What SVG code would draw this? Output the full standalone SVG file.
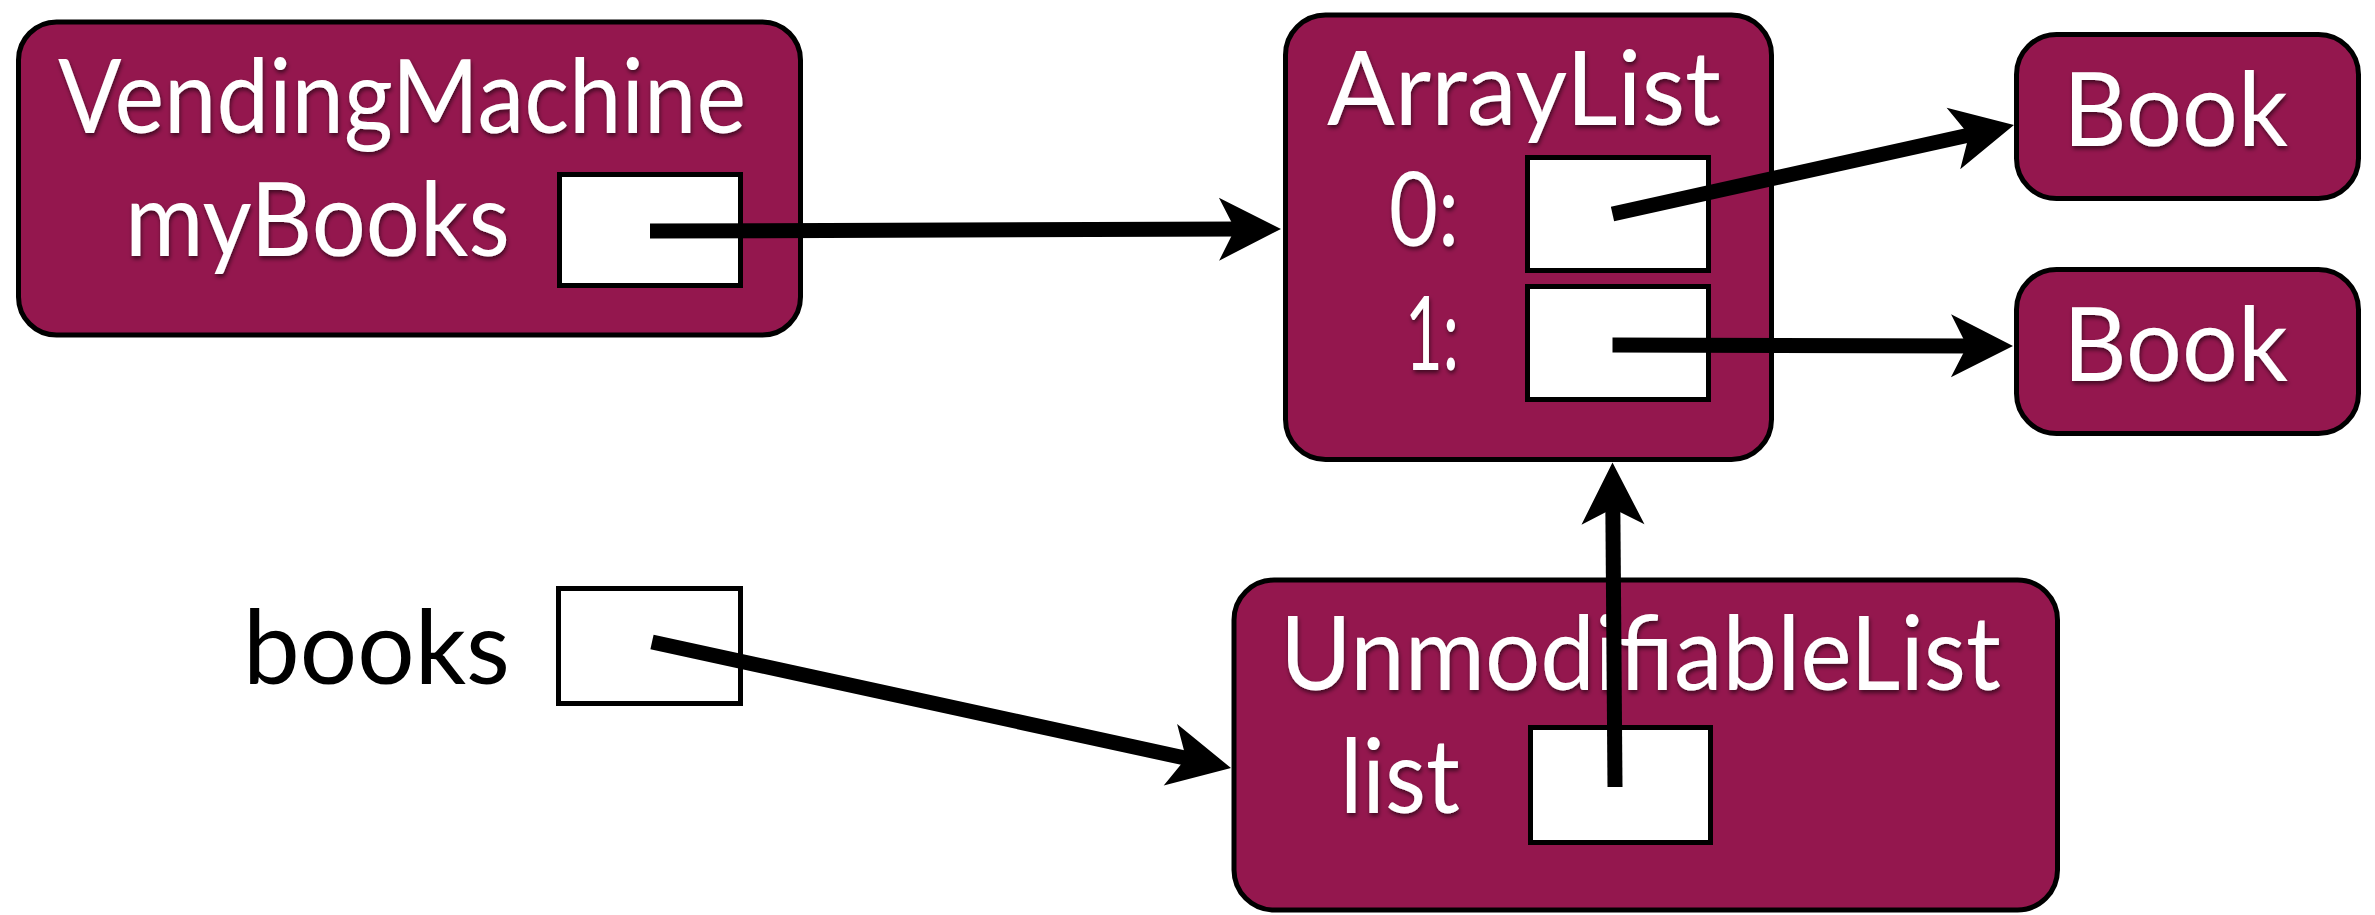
<svg xmlns="http://www.w3.org/2000/svg" width="2375" height="915" viewBox="0 0 2375 915">
  <style>
    .box { fill: #94174e; stroke: #000; stroke-width: 5; }
    .slot { fill: #fff; stroke: #000; stroke-width: 5; }
    .lbl { font-family: Lato, "Open Sans", sans-serif; font-size: 102px; fill: #fff; filter: url(#sh); }
    .plain { font-family: Lato, "Open Sans", sans-serif; font-size: 102px; fill: #000; }
    .edge { stroke: #000; stroke-width: 15; fill: none; marker-end: url(#arr); }
  </style>
  <defs>
    <filter id="sh" x="-10%" y="-20%" width="120%" height="150%">
      <feDropShadow dx="1" dy="3" stdDeviation="2" flood-color="#000" flood-opacity="0.55"/>
    </filter>
    <marker id="arr" markerUnits="userSpaceOnUse" viewBox="-30 -35 75 70" markerWidth="75" markerHeight="70" refX="0" refY="0" orient="auto">
      <path d="M40,0 L-22,-31.5 L-6,0 L-22,31.5 Z" fill="#000"/>
    </marker>
  </defs>

  <g id="vendingMachine">
    <rect class="box" x="18.5" y="22" width="782" height="313" rx="38" ry="38"/>
    <text class="lbl" x="58" y="133" textLength="688" lengthAdjust="spacingAndGlyphs">VendingMachine</text>
    <text class="lbl" x="125" y="256" textLength="385" lengthAdjust="spacingAndGlyphs">myBooks</text>
    <rect class="slot" x="559.5" y="174.5" width="181" height="111"/>
  </g>

  <g id="arrayList">
    <rect class="box" x="1285.5" y="15" width="486" height="444.5" rx="40" ry="40"/>
    <text class="lbl" x="1327" y="125" textLength="394" lengthAdjust="spacingAndGlyphs">ArrayList</text>
    <text class="lbl" x="1389" y="246" textLength="70" lengthAdjust="spacingAndGlyphs">0:</text>
    <rect class="slot" x="1527.5" y="157.5" width="181" height="113"/>
    <text class="lbl" x="1405" y="370" textLength="54" lengthAdjust="spacingAndGlyphs">1:</text>
    <rect class="slot" x="1527.5" y="286.5" width="181" height="113"/>
  </g>

  <g id="book1">
    <rect class="box" x="2016.5" y="34.5" width="342" height="164" rx="40" ry="40"/>
    <text class="lbl" x="2063" y="146" textLength="225" lengthAdjust="spacingAndGlyphs">Book</text>
  </g>

  <g id="book2">
    <rect class="box" x="2016.5" y="269.5" width="342" height="164" rx="40" ry="40"/>
    <text class="lbl" x="2063" y="381" textLength="225" lengthAdjust="spacingAndGlyphs">Book</text>
  </g>

  <g id="books">
    <text class="plain" x="243" y="684" textLength="267" lengthAdjust="spacingAndGlyphs">books</text>
    <rect class="slot" x="558.5" y="588.5" width="182" height="115"/>
  </g>

  <g id="unmodifiableList">
    <rect class="box" x="1234" y="580" width="823.5" height="330" rx="40" ry="40"/>
    <text class="lbl" x="1280" y="690" textLength="721" lengthAdjust="spacingAndGlyphs">UnmodifiableList</text>
    <text class="lbl" x="1340" y="813" textLength="120" lengthAdjust="spacingAndGlyphs">list</text>
    <rect class="slot" x="1530.5" y="727.5" width="180" height="115"/>
  </g>

  <g id="connectors">
    <line class="edge" x1="650" y1="231" x2="1241" y2="229.1"/>
    <line class="edge" x1="1612.5" y1="214" x2="1974.9" y2="133.7"/>
    <line class="edge" x1="1612.5" y1="345" x2="1973" y2="345.9"/>
    <line class="edge" x1="652" y1="642" x2="1191.9" y2="759.5"/>
    <line class="edge" x1="1615" y1="787" x2="1612.8" y2="502.5"/>
  </g>
</svg>
